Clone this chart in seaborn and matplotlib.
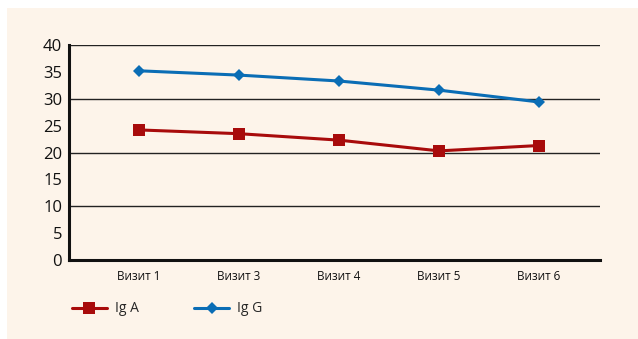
import numpy as np
import pandas as pd
import matplotlib.pyplot as plt
import seaborn as sns
from matplotlib.patches import Rectangle

visits = ["Визит 1", "Визит 3", "Визит 4", "Визит 5", "Визит 6"]
ig_a = [24.2, 23.5, 22.3, 20.3, 21.3]
ig_g = [35.2, 34.4, 33.3, 31.6, 29.4]

df = pd.DataFrame({
    "visit": visits * 2,
    "pos": list(range(len(visits))) * 2,
    "value": ig_a + ig_g,
    "series": ["Ig A"] * len(visits) + ["Ig G"] * len(visits),
})

sns.set_style("white")
plt.rcParams['font.family'] = ['Open Sans', 'DejaVu Sans']

cream = "#fdf4ea"
red = "#a80b0b"
blue = "#0a6db5"

fig = plt.figure(figsize=(6.38, 3.39), dpi=100, facecolor="white")
fig.patches.append(Rectangle((7 / 638, 0), 1, 1 - 8 / 339, transform=fig.transFigure,
                             facecolor=cream, edgecolor="none", zorder=-10))
ax = fig.add_axes([69 / 638, 1 - 260 / 339, (600 - 69) / 638, (260 - 45) / 339])
ax.set_facecolor(cream)

sns.lineplot(data=df, x="pos", y="value", hue="series", style="series",
             palette={"Ig A": red, "Ig G": blue},
             markers={"Ig A": "s", "Ig G": "D"}, dashes=False,
             markersize=8, linewidth=2.2, markeredgewidth=0, ax=ax, legend=False)
# diamonds a bit smaller
for line in ax.lines:
    if line.get_marker() == "D":
        line.set_markersize(6)

xmax = 4.61
ax.set_xlim(-0.7, xmax)
ax.set_ylim(0, 40)
ax.set_yticks(np.arange(0, 41, 5))
ax.tick_params(axis="y", length=0, labelsize=12, pad=5, colors="#111111")
for y in [10, 20, 30, 40]:
    ax.axhline(y, color="#222222", linewidth=1.0, zorder=0)

ax.set_xticks(range(len(visits)))
ax.set_xticklabels(visits)
ax.tick_params(axis="x", which="major", length=0, labelsize=8.5, pad=7, colors="#111111")
ax.set_xticks([0.5, 1.5, 2.5, 3.5, xmax], minor=True)
ax.tick_params(axis="x", which="minor", direction="in", length=3.5, width=1.5, color="#111111")

for s in ["top", "right"]:
    ax.spines[s].set_visible(False)
for s in ["left", "bottom"]:
    ax.spines[s].set_linewidth(2.2)
    ax.spines[s].set_color("#111111")
ax.set_xlabel("")
ax.set_ylabel("")

handles = [
    plt.Line2D([], [], color=red, marker="s", markersize=8, linewidth=2.2, markeredgewidth=0),
    plt.Line2D([], [], color=blue, marker="D", markersize=6, linewidth=2.2, markeredgewidth=0),
]
fig.legend(handles, ["Ig A", "Ig G"], loc="center left",
           bbox_to_anchor=(65 / 638, 1 - 309 / 339), ncol=2, frameon=False,
           borderpad=0, handlelength=2.5, handletextpad=0.6, columnspacing=4.0,
           prop={"size": 10})

fig.savefig("out.png", dpi=100, facecolor="white")
